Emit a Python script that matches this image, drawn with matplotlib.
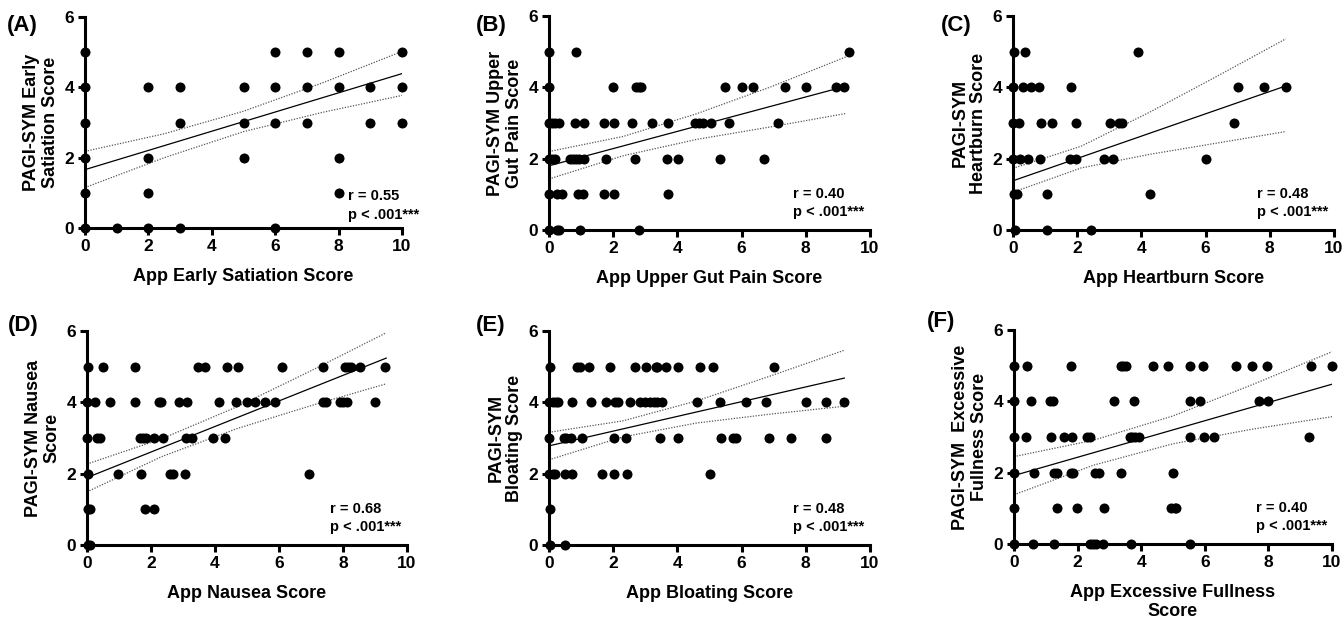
import matplotlib
matplotlib.use('Agg')
import matplotlib.pyplot as plt

plt.rcParams['font.family'] = ['Liberation Sans', 'DejaVu Sans']
plt.rcParams['font.weight'] = 'bold'

# ---------------- data ----------------
panel_letters = ['(A)', '(B)', '(C)', '(D)', '(E)', '(F)']
x_labels = ['App Early Satiation Score', 'App Upper Gut Pain Score', 'App Heartburn Score',
            'App Nausea Score', 'App Bloating Score', 'App Excessive Fullness\nScore']
y_labels = ['PAGI-SYM Early\nSatiation Score', 'PAGI-SYM Upper\nGut Pain Score', 'PAGI-SYM\nHeartburn Score',
            'PAGI-SYM Nausea\nScore', 'PAGI-SYM\nBloating Score', 'PAGI-SYM  Excessive\nFullness Score']
r_texts = ['r = 0.55', 'r = 0.40', 'r = 0.48', 'r = 0.68', 'r = 0.48', 'r = 0.40']
p_texts = ['p < .001***'] * 6
x_ticks = [0, 2, 4, 6, 8, 10]
y_ticks = [0, 2, 4, 6]

# Panel A
a_x = [0, 6, 7, 8, 10,
       0, 2, 3, 5, 6, 7, 8, 9, 10,
       0, 3, 5, 6, 7, 9, 10,
       0, 2, 5, 8,
       0, 2, 8,
       0, 1, 2, 3, 6]
a_y = [5] * 5 + [4] * 9 + [3] * 7 + [2] * 4 + [1] * 3 + [0] * 5
a_fit_x = [0, 10]
a_fit_y = [1.66, 4.39]
a_ci_x = [0, 2.5, 5, 7.5, 10]
a_ci_up = [2.18, 2.68, 3.32, 4.13, 5.02]
a_ci_lo = [1.15, 2.00, 2.74, 3.29, 3.77]

# Panel B
b_x = [0, 0.85, 9.35,
       0, 1.98, 2.72, 2.8, 2.87, 5.49, 6.0, 6.37, 7.35, 8.0, 8.93, 9.2,
       0, 0.1, 0.2, 0.3, 0.8, 1.08, 1.71, 2.02, 2.58, 3.2, 3.71, 4.55, 4.66, 4.81, 5.05, 5.62, 7.12,
       0, 0.1, 0.2, 0.65, 0.75, 0.85, 0.95, 1.1, 1.79, 2.67, 3.69, 4.03, 5.33, 6.7,
       0, 0.25, 0.4, 0.9, 1.05, 1.72, 2.03, 3.72,
       0, 0.25, 0.3, 0.98, 2.81]
b_y = [5] * 3 + [4] * 12 + [3] * 17 + [2] * 14 + [1] * 8 + [0] * 5
b_fit_x = [0, 9.2]
b_fit_y = [1.80, 4.02]
b_ci_x = [0, 2.3, 4.6, 6.9, 9.27]
b_ci_up = [2.20, 2.62, 3.26, 4.01, 4.86]
b_ci_lo = [1.43, 2.08, 2.54, 2.89, 3.27]

# Panel C
c_x = [0.02, 0.36, 3.88,
       0, 0.3, 0.57, 0.81, 1.8, 7.02, 7.82, 8.52,
       0, 0.18, 0.88, 1.23, 1.95, 3.01, 3.3, 3.4, 6.88,
       0, 0.21, 0.47, 0.83, 1.77, 1.95, 2.83, 3.12, 6.0,
       0.02, 0.12, 1.07, 4.28,
       0.05, 1.07, 2.44]
c_y = [5] * 3 + [4] * 8 + [3] * 9 + [2] * 9 + [1] * 4 + [0] * 3
c_fit_x = [0, 8.5]
c_fit_y = [1.38, 4.04]
c_ci_x = [0, 2.125, 4.25, 6.375, 8.5]
c_ci_up = [1.73, 2.35, 3.30, 4.32, 5.36]
c_ci_lo = [1.06, 1.74, 2.12, 2.44, 2.76]

# Panel D
d_x = [0.02, 0.49, 1.51, 3.48, 3.69, 4.39, 4.71, 6.08, 7.36, 8.06, 8.16, 8.26, 8.52, 9.32,
       0, 0.26, 0.73, 1.49, 2.26, 2.32, 2.88, 3.14, 4.14, 4.66, 4.99, 5.25, 5.56, 5.89, 7.36, 7.46,
       7.9, 8.0, 8.13, 9.0,
       0, 0.31, 0.40, 1.66, 1.75, 1.84, 2.08, 2.39, 3.09, 3.27, 3.95, 4.31,
       0.02, 0.96, 1.68, 2.6, 2.7, 3.07, 6.94,
       0.02, 0.1, 1.82, 2.1,
       0.02, 0.08]
d_y = [5] * 14 + [4] * 20 + [3] * 12 + [2] * 7 + [1] * 4 + [0] * 2
d_fit_x = [0, 9.35]
d_fit_y = [1.89, 5.24]
d_ci_x = [0, 2.34, 4.675, 7.01, 9.35]
d_ci_up = [2.27, 2.98, 3.87, 4.89, 5.95]
d_ci_lo = [1.49, 2.48, 3.26, 3.91, 4.52]

# Panel E
e_x = [0.02, 0.87, 0.98, 1.24, 1.91, 2.69, 3.01, 3.32, 3.37, 3.66, 4.02, 4.70, 5.11, 7.0,
       0, 0.12, 0.23, 0.28, 0.73, 1.32, 1.79, 2.05, 2.15, 2.52, 2.85, 2.98, 3.14, 3.26, 3.37, 3.52,
       4.62, 5.34, 6.15, 6.76, 8.02, 8.63, 9.19,
       0, 0.47, 0.54, 0.67, 1.03, 2.03, 2.41, 3.47, 4.02, 5.37, 5.72, 5.84, 6.86, 7.53, 8.63,
       0, 0.12, 0.18, 0.51, 0.72, 1.65, 2.02, 2.44, 5.03,
       0.02,
       0.02, 0.49]
e_y = [5] * 14 + [4] * 23 + [3] * 15 + [2] * 9 + [1] * 1 + [0] * 2
e_fit_x = [0, 9.2]
e_fit_y = [2.78, 4.68]
e_ci_x = [0, 2.3, 4.6, 6.9, 9.2]
e_ci_up = [3.16, 3.48, 4.04, 4.74, 5.46]
e_ci_lo = [2.39, 3.03, 3.42, 3.67, 3.89]

# Panel F
f_x = [0, 0.40, 1.79, 3.36, 3.43, 3.51, 4.37, 4.84, 5.55, 5.94, 6.99, 7.49, 7.95, 9.34, 10.0,
       0, 0.53, 1.13, 1.23, 3.15, 3.78, 5.55, 5.84, 7.72, 7.98,
       0, 0.37, 1.16, 1.58, 1.83, 2.28, 2.39, 3.64, 3.72, 3.80, 3.92, 5.52, 5.99, 6.29, 9.27,
       0, 0.63, 1.27, 1.34, 1.79, 1.86, 2.54, 2.67, 3.38, 5.0,
       0, 1.34, 1.98, 2.82, 4.95, 5.05, 5.1,
       0, 0.59, 1.27, 2.39, 2.49, 2.59, 2.80, 3.67, 5.52]
f_y = [5] * 15 + [4] * 10 + [3] * 15 + [2] * 10 + [1] * 7 + [0] * 9
f_fit_x = [0, 10]
f_fit_y = [1.92, 4.48]
f_ci_x = [0, 2.5, 5, 7.5, 10]
f_ci_up = [2.45, 2.91, 3.59, 4.47, 5.39]
f_ci_lo = [1.38, 2.21, 2.81, 3.22, 3.57]

panels = [
    (a_x, a_y, a_fit_x, a_fit_y, a_ci_x, a_ci_up, a_ci_lo),
    (b_x, b_y, b_fit_x, b_fit_y, b_ci_x, b_ci_up, b_ci_lo),
    (c_x, c_y, c_fit_x, c_fit_y, c_ci_x, c_ci_up, c_ci_lo),
    (d_x, d_y, d_fit_x, d_fit_y, d_ci_x, d_ci_up, d_ci_lo),
    (e_x, e_y, e_fit_x, e_fit_y, e_ci_x, e_ci_up, e_ci_lo),
    (f_x, f_y, f_fit_x, f_fit_y, f_ci_x, f_ci_up, f_ci_lo),
]

# ---------------- layout ----------------
W, H = 1343, 619
fig = plt.figure(figsize=(W / 100, H / 100), dpi=100)

# axes rectangles in pixels: left, top, right, bottom
rects_px = [(85, 17, 402, 228), (549, 16, 870, 230), (1013, 16, 1334, 230),
            (87, 331, 407, 545), (549, 331, 870, 545), (1014, 330, 1332, 544)]
letter_px = [(7, 25), (476, 25), (941, 25), (8, 325), (476, 325), (927, 322)]
ann_x = [0.83, 0.76, 0.76, 0.76, 0.76, 0.76]
ann_r_y = [0.15, 0.167, 0.167, 0.166, 0.166, 0.166]
ann_p_y = [0.063, 0.086, 0.086, 0.086, 0.086, 0.086]

for i, (px, py, fx, fy, cx, cu, cl) in enumerate(panels):
    l, t, r, b = rects_px[i]
    ax = fig.add_axes([l / W, 1 - b / H, (r - l) / W, (b - t) / H])
    ax.scatter(px, py, s=52, color='black', zorder=4, clip_on=False, linewidths=0)
    ax.plot(fx, fy, color='black', lw=0.9, zorder=3)
    ax.plot(cx, cu, color='#555555', lw=0.9, ls=(0, (1, 1.2)), zorder=3)
    ax.plot(cx, cl, color='#555555', lw=0.9, ls=(0, (1, 1.2)), zorder=3)
    ax.set_xlim(0, 10)
    ax.set_ylim(0, 6)
    ax.set_xticks(x_ticks)
    ax.set_yticks(y_ticks)
    for s in ['top', 'right']:
        ax.spines[s].set_visible(False)
    for s in ['left', 'bottom']:
        ax.spines[s].set_linewidth(2.2)
        ax.spines[s].set_zorder(3.5)
    ax.tick_params(axis='both', which='major', length=5, width=2.2, labelsize=12.5, pad=3)
    for lab in ax.get_xticklabels() + ax.get_yticklabels():
        lab.set_fontweight('bold')
    ax.set_xlabel(x_labels[i], fontsize=13, fontweight='bold', labelpad=10, linespacing=1.15)
    ax.set_ylabel(y_labels[i], fontsize=13, fontweight='bold', labelpad=4, linespacing=1.1)
    ax.text(ann_x[i], ann_r_y[i], r_texts[i], transform=ax.transAxes, fontsize=10.5,
            fontweight='bold', va='center', ha='left')
    ax.text(ann_x[i], ann_p_y[i], p_texts[i], transform=ax.transAxes, fontsize=10.5,
            fontweight='bold', va='center', ha='left')
    lx, ly = letter_px[i]
    fig.text(lx / W, 1 - ly / H, panel_letters[i], fontsize=16, fontweight='bold',
             va='center', ha='left')

fig.savefig('out.png', dpi=100, facecolor='white')
